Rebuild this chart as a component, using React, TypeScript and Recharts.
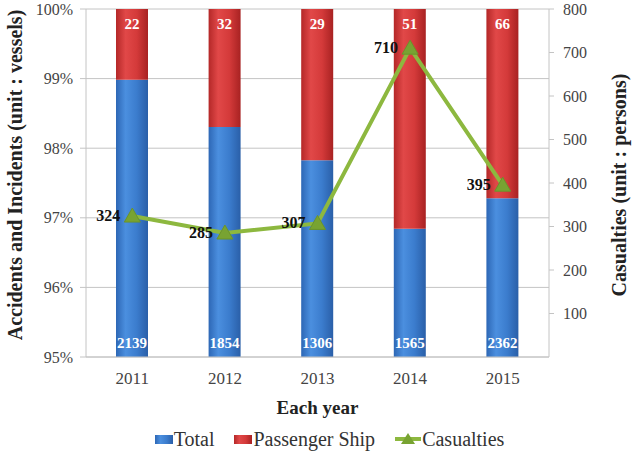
import React from 'react';
import { ComposedChart, Bar, Line, XAxis, YAxis, CartesianGrid, Legend, LabelList } from 'recharts';

const years = ['2011', '2012', '2013', '2014', '2015'];
const totalVessels = [2139, 1854, 1306, 1565, 2362];
const passengerShips = [22, 32, 29, 51, 66];
const casualties = [324, 285, 307, 710, 395];

const seriesNames = ['Total', 'Passenger Ship', 'Casualties'];
const shareTicks = [95, 96, 97, 98, 99, 100];
const personTicks = [100, 200, 300, 400, 500, 600, 700, 800];
const edgeTicks = [0, 1, 2, 3, 4, 5];

const WIDTH = 641;
const HEIGHT = 453;
const MARGIN = { top: 9, right: 8, bottom: 0, left: 8 };
const LEGEND_H = 28;
const XAXIS_H = 67;
const PLOT_BOTTOM = HEIGHT - MARGIN.bottom - LEGEND_H - XAXIS_H - 1;

const FONT = '"Liberation Serif", "Times New Roman", serif';
const GRID = '#c4c4c4';

// each year as a share of all vessels, stacked to 100%
const data = years.map((year, i) => {
  const sum = totalVessels[i] + passengerShips[i];
  return {
    year,
    total: totalVessels[i],
    passenger: passengerShips[i],
    casualties: casualties[i],
    totalShare: (totalVessels[i] / sum) * 100,
    passengerShare: (passengerShips[i] / sum) * 100,
  };
});

const Triangle = (props: any) => {
  const { cx, cy } = props;
  if (cx == null || cy == null) return null;
  return (
    <polygon
      key={`tri-${cx}`}
      points={`${cx},${cy - 8} ${cx - 8},${cy + 6} ${cx + 8},${cy + 6}`}
      fill="#78a332"
      stroke="#6a942b"
      strokeWidth={1}
    />
  );
};

const TopLabel = (props: any) => {
  const { x, y, width, value } = props;
  return (
    <text x={x + width / 2} y={y + 20} textAnchor="middle" fill="#fff" fontFamily={FONT} fontWeight="bold" fontSize={15}>
      {value}
    </text>
  );
};

const BottomLabel = (props: any) => {
  const { x, width, value } = props;
  return (
    <text x={x + width / 2} y={PLOT_BOTTOM - 9} textAnchor="middle" fill="#fff" fontFamily={FONT} fontWeight="bold" fontSize={15}>
      {value}
    </text>
  );
};

const LineLabel = (props: any) => {
  const { x, y, value } = props;
  return (
    <text x={x - 12} y={y + 5} textAnchor="end" fill="#111" fontFamily={FONT} fontWeight="bold" fontSize={16}>
      {value}
    </text>
  );
};

const LegendIcon = ({ name }: { name: string }) => {
  if (name === 'Casualties') {
    return (
      <svg width={26} height={16} style={{ verticalAlign: 'middle' }}>
        <line x1={0} y1={8} x2={26} y2={8} stroke="#8db83f" strokeWidth={4} />
        <polygon points="13,2 6,13 20,13" fill="#78a332" />
      </svg>
    );
  }
  const fill = name === 'Total' ? 'url(#blueBar)' : 'url(#redBar)';
  return (
    <svg width={18} height={16} style={{ verticalAlign: 'middle' }}>
      <rect x={0} y={4} width={18} height={9} fill={fill} />
    </svg>
  );
};

const renderLegend = (props: any) => {
  const items = [...(props.payload || [])].sort(
    (a: any, b: any) => seriesNames.indexOf(a.value) - seriesNames.indexOf(b.value)
  );
  return (
    <div style={{ display: 'flex', justifyContent: 'center', height: LEGEND_H, alignItems: 'center', paddingLeft: 38 }}>
      {items.map((entry: any) => (
        <div key={entry.value} style={{ display: 'flex', alignItems: 'center', marginRight: 20 }}>
          <LegendIcon name={entry.value} />
          <span style={{ fontFamily: FONT, fontSize: 20, color: '#333', marginLeft: 1 }}>{entry.value}</span>
        </div>
      ))}
    </div>
  );
};

const axisTick = { fontFamily: FONT, fontSize: 16, fill: '#444' };

const titleProps = { fontFamily: FONT, fontWeight: 'bold', fontSize: 20, fill: '#222' };

export default function App() {
  return (
    <div style={{ position: 'absolute', left: 0, top: 0, width: WIDTH, height: HEIGHT, background: '#fff' }}>
      <ComposedChart width={WIDTH} height={HEIGHT} data={data} margin={MARGIN} barSize={32}>
        <defs>
          <linearGradient id="blueBar" x1="0" y1="0" x2="1" y2="0">
            <stop offset="0%" stopColor="#2d67b5" />
            <stop offset="30%" stopColor="#4b8fdf" />
            <stop offset="65%" stopColor="#3b7ccd" />
            <stop offset="100%" stopColor="#2a5fa8" />
          </linearGradient>
          <linearGradient id="redBar" x1="0" y1="0" x2="1" y2="0">
            <stop offset="0%" stopColor="#b42828" />
            <stop offset="30%" stopColor="#e14848" />
            <stop offset="65%" stopColor="#d43a3a" />
            <stop offset="100%" stopColor="#a82222" />
          </linearGradient>
        </defs>
        <CartesianGrid vertical={false} stroke={GRID} yAxisId="share" />
        <XAxis
          xAxisId="edges"
          type="number"
          domain={[0, 5]}
          ticks={edgeTicks}
          height={1}
          tick={false}
          axisLine={false}
          tickLine={{ stroke: GRID }}
          tickSize={6}
        />
        <XAxis
          dataKey="year"
          height={XAXIS_H}
          tick={{ ...axisTick, fontSize: 17 }}
          tickLine={false}
          axisLine={{ stroke: GRID }}
          tickMargin={9}
          label={(p: any) => {
            const vb = p.viewBox;
            return (
              <text x={vb.x + vb.width / 2} y={vb.y + 57} textAnchor="middle" {...titleProps} fontSize={19}>
                Each year
              </text>
            );
          }}
        />
        <YAxis
          yAxisId="share"
          width={78}
          domain={[95, 100]}
          ticks={shareTicks}
          allowDataOverflow
          tickFormatter={(v: number) => `${v}%`}
          tick={axisTick}
          axisLine={{ stroke: GRID }}
          tickLine={{ stroke: GRID }}
          tickSize={6}
          tickMargin={7}
          label={(p: any) => {
            const vb = p.viewBox;
            const cx = vb.x + 9;
            const cy = vb.y + vb.height / 2 - 8;
            return (
              <text x={cx} y={cy} transform={`rotate(-90 ${cx} ${cy})`} textAnchor="middle" dominantBaseline="middle" {...titleProps}>
                Accidents and Incidents (unit : vessels)
              </text>
            );
          }}
        />
        <YAxis
          yAxisId="persons"
          orientation="right"
          width={84}
          domain={[0, 800]}
          ticks={personTicks}
          tick={axisTick}
          axisLine={{ stroke: GRID }}
          tickLine={{ stroke: GRID }}
          tickSize={5}
          tickMargin={9}
          label={(p: any) => {
            const vb = p.viewBox;
            const cx = vb.x + 72;
            const cy = vb.y + vb.height / 2 + 2;
            return (
              <text x={cx} y={cy} transform={`rotate(-90 ${cx} ${cy})`} textAnchor="middle" dominantBaseline="middle" {...titleProps}>
                Casualties (unit : persons)
              </text>
            );
          }}
        />
        <Legend verticalAlign="bottom" height={LEGEND_H} content={renderLegend} />
        <Bar yAxisId="share" dataKey="totalShare" name="Total" stackId="a" fill="url(#blueBar)" isAnimationActive={false}>
          <LabelList dataKey="total" content={BottomLabel} />
        </Bar>
        <Bar yAxisId="share" dataKey="passengerShare" name="Passenger Ship" stackId="a" fill="url(#redBar)" isAnimationActive={false}>
          <LabelList dataKey="passenger" content={TopLabel} />
        </Bar>
        <Line
          yAxisId="persons"
          dataKey="casualties"
          name="Casualties"
          stroke="#8db83f"
          strokeWidth={4}
          dot={Triangle}
          activeDot={false}
          isAnimationActive={false}
        >
          <LabelList dataKey="casualties" content={LineLabel} />
        </Line>
      </ComposedChart>
    </div>
  );
}
